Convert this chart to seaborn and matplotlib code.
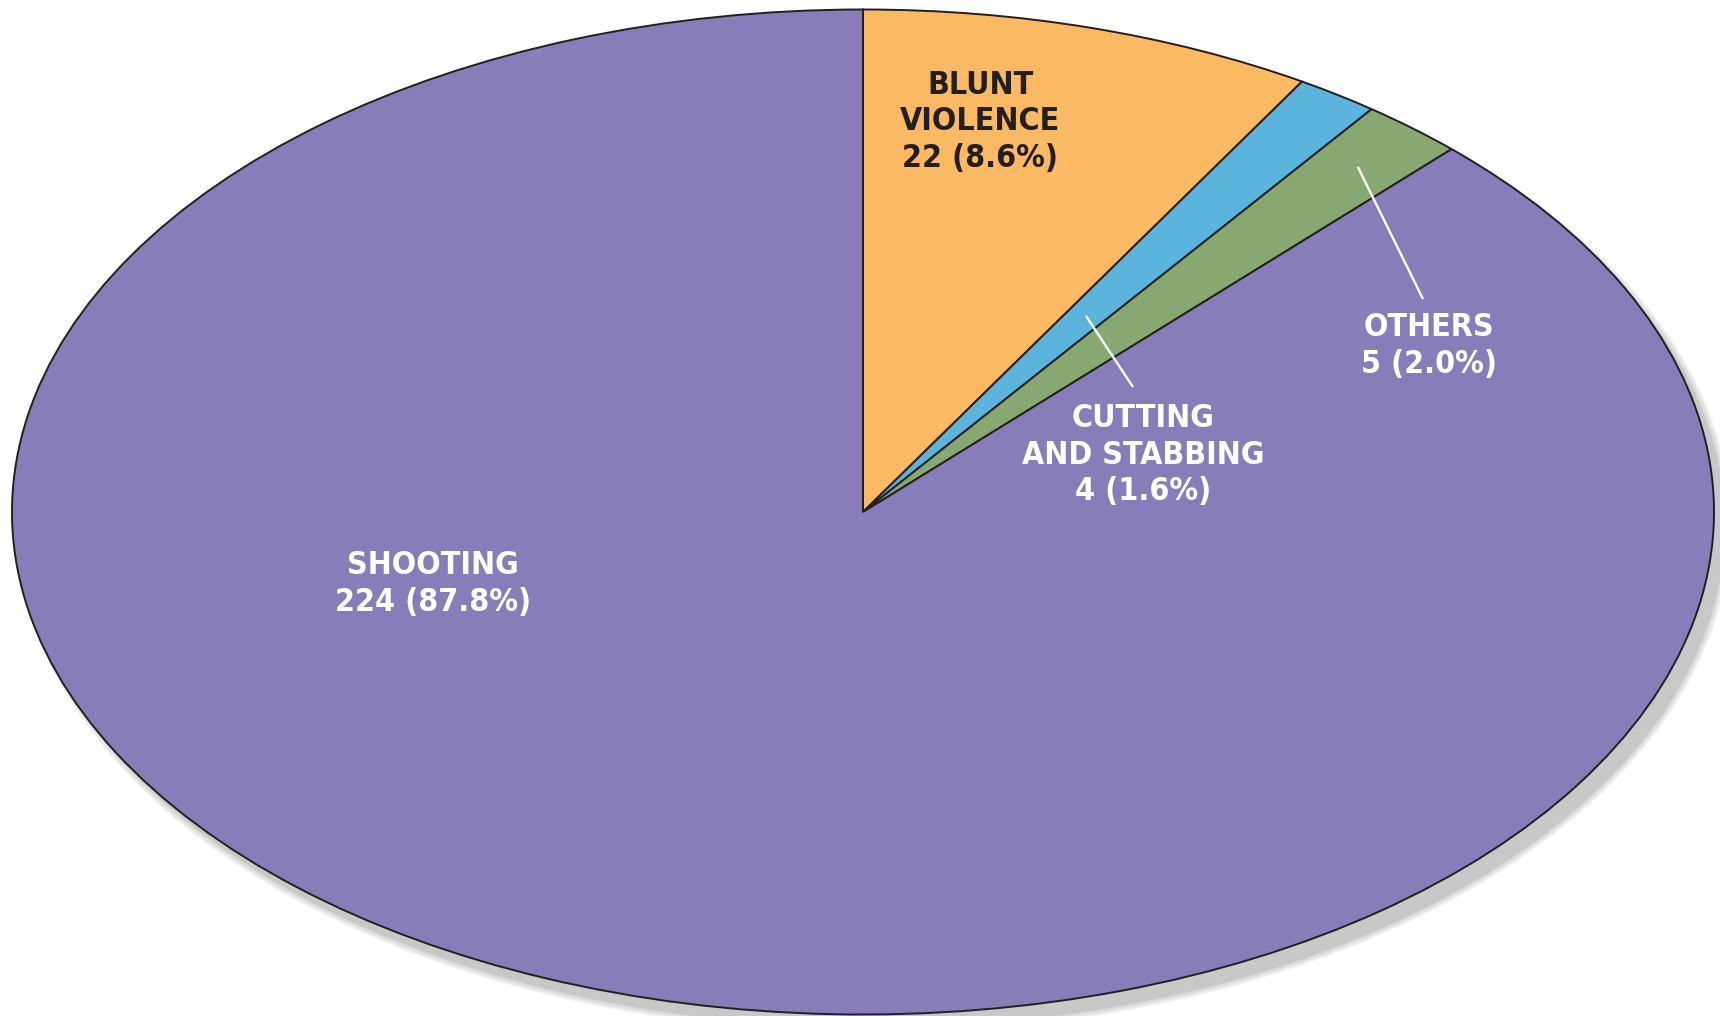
import numpy as np
import matplotlib
matplotlib.use("Agg")
import matplotlib.pyplot as plt
from matplotlib.patches import Ellipse
from matplotlib import font_manager
import seaborn as sns

# ---- data ----
categories = ["BLUNT\nVIOLENCE", "CUTTING\nAND STABBING", "OTHERS", "SHOOTING"]
counts = [22, 4, 5, 224]
percents = [8.6, 1.6, 2.0, 87.8]
hex_colors = ["#FBB963", "#5AB4DC", "#87A870", "#877DB8"]

sns.set_theme(style="white")
plt.rcParams["font.family"] = ["DejaVu Sans"]
palette = sns.color_palette(hex_colors)

# pick a condensed bold face if one is available
cond_file = None
for f in font_manager.fontManager.ttflist:
    if f.weight in (700, "bold") and f.stretch in ("condensed", 75, "semi-condensed", 87.5) \
            and f.style == "normal":
        cond_file = f.fname
        break
if cond_file:
    fp = font_manager.FontProperties(fname=cond_file, size=23)
else:
    fp = font_manager.FontProperties(family="Roboto", weight="bold", size=22)

W, H = 1720, 1016
fig = plt.figure(figsize=(W / 100, H / 100), dpi=100)
fig.patch.set_facecolor("white")

cx, cy, a, b = 863, 512, 851, 502.5
ax = fig.add_axes([(cx - a) / W, (H - cy - b) / H, 2 * a / W, 2 * b / H])

px_x = 1.0 / a
px_y = 1.0 / b

# soft shadow (lower-right)
offx, offy = 11 * px_x, -13 * px_y
ax.add_patch(Ellipse((offx, offy), 2, 2, facecolor="#c8c8c8", edgecolor="none",
                     clip_on=False, zorder=0))
n = 8
blur = 6
for k in range(n):
    grow = blur * (1 - k / n)
    ax.add_patch(Ellipse((offx, offy), 2 + 2 * grow * px_x, 2 + 2 * grow * px_y,
                         facecolor="#c8c8c8", edgecolor="none", alpha=0.12,
                         clip_on=False, zorder=0))

wedges, _ = ax.pie(counts, colors=palette, startangle=90, counterclock=False,
                   radius=1, frame=True,
                   wedgeprops=dict(edgecolor="#231F20", linewidth=1.4))
for w in wedges:
    w.set_clip_on(False)
    w.set_zorder(2)
ax.set_aspect("auto")
ax.set_xlim(-1, 1)
ax.set_ylim(-1, 1)
ax.axis("off")

total = sum(counts)
angles = []
start = 90.0
for c in counts:
    sweep = 360.0 * c / total
    angles.append(start - sweep / 2)
    start -= sweep


def to_data(px, py):
    return (px - cx) / a, (cy - py) / b


labels = [f"{cat}\n{c} ({p:.1f}%)" for cat, c, p in zip(categories, counts, percents)]
label_px = [(980, 122), (1143, 455), (1429, 346), (433, 584)]
label_colors = ["#231F20", "white", "white", "white"]

for lab, (lx, ly), col in zip(labels, label_px, label_colors):
    x, y = to_data(lx, ly)
    ax.text(x, y, lab, ha="center", va="center", color=col, fontproperties=fp,
            linespacing=1.22, zorder=5)

leaders = {1: (0.47, (1133, 387)), 2: (0.90, (1423, 299))}
for i, (r, (ex, ey)) in leaders.items():
    t = np.deg2rad(angles[i])
    sx, sy = r * np.cos(t), r * np.sin(t)
    x2, y2 = to_data(ex, ey)
    ax.plot([sx, x2], [sy, y2], color="white", linewidth=1.7, zorder=4,
            solid_capstyle="butt")

fig.savefig("out.png", dpi=100, facecolor="white")
